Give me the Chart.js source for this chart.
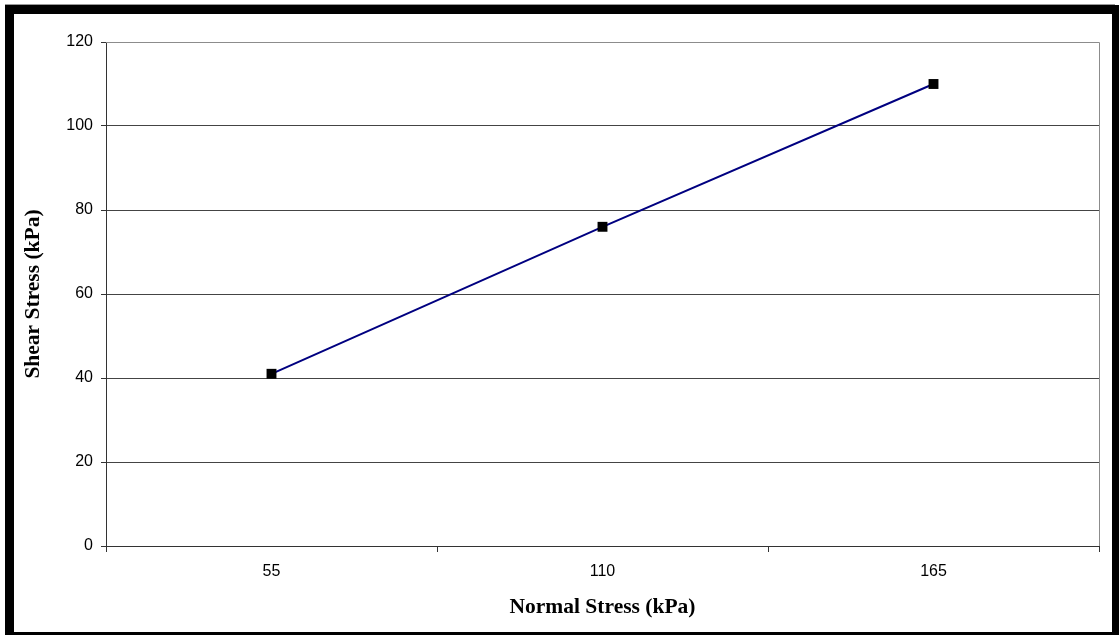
<!DOCTYPE html>
<html>
<head>
<meta charset="utf-8">
<script src="https://cdn.jsdelivr.net/npm/chart.js@4/dist/chart.umd.min.js"></script>
<style>
  html, body { margin: 0; padding: 0; background: #fff; overflow: hidden; }
  #wrap { position: absolute; left: 0; top: 0; width: 1119px; height: 635px; }
  #frame { position: absolute; left: 5px; top: 5px; width: 1115px; height: 635px; box-sizing: border-box;
           border-left: 9px solid #000; border-top: 9px solid #000; border-right: 8px solid #000; border-bottom: 8px solid #000;
           pointer-events: none; }
  #topline { position: absolute; left: 5px; top: 4px; width: 1110px; height: 1px; background: #999; }
  canvas { position: absolute; left: 0; top: 0; }
</style>
</head>
<body>
<div id="wrap">
  <canvas id="c" width="1119" height="635"></canvas>
  <div id="topline"></div>
  <div id="frame"></div>
</div>
<script>
const categories = ['55', '110', '165'];
const shearStress = [41, 76, 110];
const yTicks = [0, 20, 40, 60, 80, 100, 120];
const xTitle = 'Normal Stress (kPa)';
const yTitle = 'Shear Stress (kPa)';

const frameLines = {
  id: 'frameLines',
  beforeDatasetsDraw(chart) {
    const { ctx, chartArea: a } = chart;
    ctx.save();
    ctx.strokeStyle = '#8c8c8c';
    ctx.lineWidth = 1;
    ctx.beginPath();
    ctx.moveTo(a.left, a.top + 0.5);
    ctx.lineTo(a.right + 0.5, a.top + 0.5);
    ctx.lineTo(a.right + 0.5, a.bottom);
    ctx.stroke();
    ctx.restore();
  }
};

new Chart(document.getElementById('c'), {
  type: 'line',
  data: {
    labels: categories,
    datasets: [{
      data: shearStress,
      borderColor: '#000080',
      borderWidth: 2,
      pointStyle: 'rect',
      pointRadius: 7,
      pointBackgroundColor: '#000',
      pointBorderColor: '#000',
      pointBorderWidth: 0,
      tension: 0,
      fill: false
    }]
  },
  options: {
    responsive: false,
    animation: false,
    devicePixelRatio: 1,
    layout: { padding: { left: 14, top: 42, right: 20, bottom: 14 } },
    plugins: { legend: { display: false }, tooltip: { enabled: false } },
    scales: {
      x: {
        type: 'category',
        offset: true,
        afterFit(s) { s.height = 75; },
        grid: { offset: true, drawOnChartArea: false, drawTicks: true, tickLength: 6, color: '#333' },
        border: { color: '#333', width: 1 },
        ticks: { color: '#000', padding: 10, font: { family: 'Liberation Sans', size: 16 } },
        title: { display: true, text: xTitle, color: '#000', padding: { top: 0, bottom: 1 },
                 font: { family: 'Liberation Serif', size: 21.5, weight: 'bold', lineHeight: 1.2 } }
      },
      y: {
        min: 0, max: 120,
        afterFit(s) { s.width = 92; },
        afterBuildTicks(s) { s.ticks = yTicks.map(v => ({ value: v })); },
        grid: {
          color: ctx => (ctx.tick && ctx.tick.value === 120) ? '#8c8c8c' : '#444',
          tickColor: '#333',
          tickLength: 5
        },
        border: { color: '#333', width: 1 },
        ticks: { color: '#000', padding: 8, font: { family: 'Liberation Sans', size: 16 } },
        title: { display: true, text: yTitle, color: '#000', padding: { top: 7, bottom: 0 },
                 font: { family: 'Liberation Serif', size: 21.5, weight: 'bold', lineHeight: 1.2 } }
      }
    }
  },
  plugins: [frameLines]
});
</script>
</body>
</html>
